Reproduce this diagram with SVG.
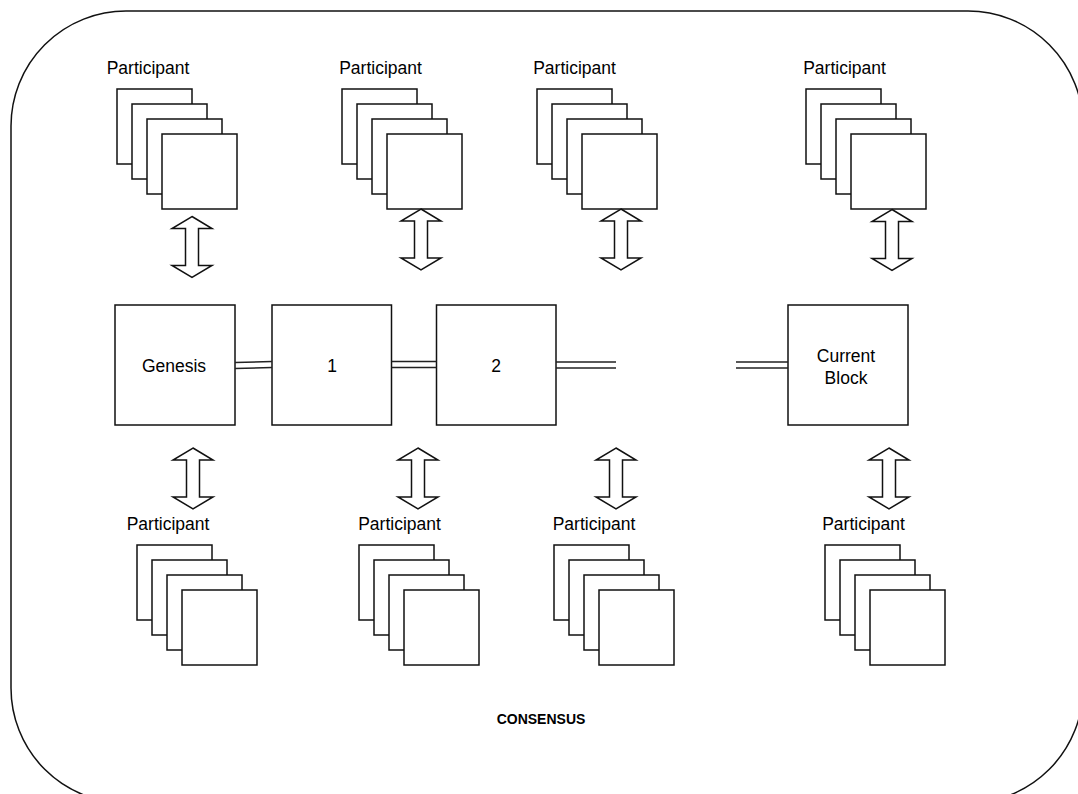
<svg xmlns="http://www.w3.org/2000/svg" xmlns:xlink="http://www.w3.org/1999/xlink" width="1078" height="794" viewBox="0 0 1078 794">
<style>
.s{fill:#fff;stroke:#111;stroke-width:1.5}
.ln{fill:none;stroke:#222;stroke-width:1.5}
.t{font-family:"Liberation Sans",Arial,sans-serif;font-size:17.5px;fill:#000;text-anchor:middle}
.b{font-family:"Liberation Sans",Arial,sans-serif;font-size:14px;font-weight:bold;fill:#000;text-anchor:middle}
</style>
<defs>
<g id="stack">
<rect class="s" x="0" y="0" width="75" height="75"/>
<rect class="s" x="15" y="15" width="75" height="75"/>
<rect class="s" x="30" y="30" width="75" height="75"/>
<rect class="s" x="45" y="45" width="75" height="75"/>
</g>
<path id="arr" class="s" d="M0,0 L20,12 L6.5,12 L6.5,49 L20,49 L0,61 L-20,49 L-6.5,49 L-6.5,12 L-20,12 Z"/>
</defs>
<rect id="consensus" x="11" y="11" width="1072" height="792" rx="115" ry="115" fill="none" stroke="#111" stroke-width="1.5"/>
<text class="b" x="541" y="724">CONSENSUS</text>

<g id="p-top-1"><text class="t" x="148" y="74">Participant</text><use xlink:href="#stack" x="117" y="89"/></g>
<g id="p-top-2"><text class="t" x="380.5" y="74">Participant</text><use xlink:href="#stack" x="342" y="89"/></g>
<g id="p-top-3"><text class="t" x="574.5" y="74">Participant</text><use xlink:href="#stack" x="537" y="89"/></g>
<g id="p-top-4"><text class="t" x="844.5" y="74">Participant</text><use xlink:href="#stack" x="806" y="89"/></g>

<g id="p-bot-1"><text class="t" x="168" y="530">Participant</text><use xlink:href="#stack" x="137" y="545"/></g>
<g id="p-bot-2"><text class="t" x="399.5" y="530">Participant</text><use xlink:href="#stack" x="359" y="545"/></g>
<g id="p-bot-3"><text class="t" x="594" y="530">Participant</text><use xlink:href="#stack" x="554" y="545"/></g>
<g id="p-bot-4"><text class="t" x="863.5" y="530">Participant</text><use xlink:href="#stack" x="825" y="545"/></g>

<g id="genesis"><rect class="s" x="115" y="305" width="120" height="120"/><text class="t" x="174" y="372">Genesis</text></g>
<g id="block-1"><rect class="s" x="272" y="305" width="119.5" height="120"/><text class="t" x="332" y="372">1</text></g>
<g id="block-2"><rect class="s" x="436.5" y="305" width="119.5" height="120"/><text class="t" x="496" y="372">2</text></g>
<g id="current-block"><rect class="s" x="788" y="305" width="120" height="120"/><text class="t" x="846" y="362">Current</text><text class="t" x="846" y="384">Block</text></g>

<g id="connectors">
<path class="ln" d="M235,362.5 L272,361.5 M235,368.5 L272,367.5"/>
<path class="ln" d="M391.5,361.5 L436.5,361.5 M391.5,367.5 L436.5,367.5"/>
<path class="ln" d="M556,362 L616,362 M556,368 L616,368"/>
<path class="ln" d="M736,362 L788,362 M736,368 L788,368"/>
<use xlink:href="#arr" x="192" y="216.5"/>
<use xlink:href="#arr" x="421" y="209"/>
<use xlink:href="#arr" x="621" y="209"/>
<use xlink:href="#arr" x="892" y="209.5"/>
<use xlink:href="#arr" x="193" y="448"/>
<use xlink:href="#arr" x="418" y="448"/>
<use xlink:href="#arr" x="616" y="448"/>
<use xlink:href="#arr" x="889" y="448"/>
</g>
</svg>
